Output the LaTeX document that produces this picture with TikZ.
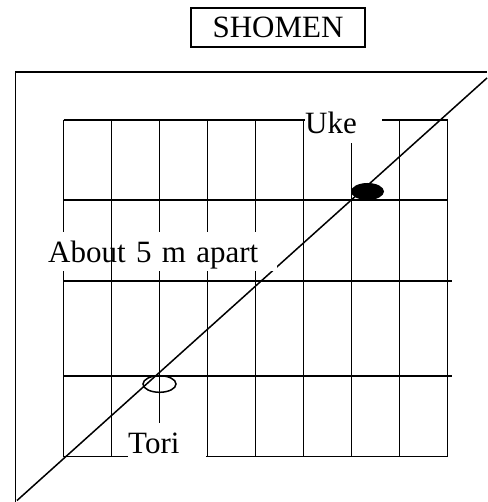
\documentclass[tikz,border=0pt]{standalone}
\usepackage{fontspec}
\setmainfont{Liberation Serif}
\usepackage{xcolor}
\usepackage{tikz}
\usetikzlibrary{positioning}
\definecolor{inkblack}{HTML}{000000}

\tikzset{
  matline/.style={inkblack, line width=1.5pt},
  lbl/.style={fill=white, inner ysep=0pt, anchor=base west, align=left,
    font=\fontsize{31}{36}\selectfont\color{inkblack}}
}

\begin{document}
\begin{tikzpicture}[x=1pt,y=-1pt]
  \useasboundingbox (0,0) rectangle (487,502);
  % shomen sign
  \node[draw=inkblack, line width=1.5pt, minimum width=174pt, minimum height=39pt, inner sep=0pt,
        font=\fontsize{31}{36}\selectfont] (shomen) at (278,27.5) {SHOMEN};
  % mat grid
  \foreach \i in {0,...,8}{
    \draw[matline] ({63.5+48*\i},120) -- ({63.5+48*\i},456.5);
  }
  \foreach \y/\xe in {120/447.5, 200/447.5, 281/451.7, 376/451.7, 456.5/447.5}{
    \draw[matline] (63.5,\y) -- (\xe,\y);
  }
  % area border and diagonal
  \draw[matline] (15.7,502) -- (15.7,72) -- (487,72);
  \draw[matline] (17,500.5) -- (487,78);
  % labels
  \node[lbl, inner xsep=0.5pt, text width=76pt, text height=23pt, text depth=10pt] (uke) at (304.5,133.3) {Uke};
  \node[lbl, inner xsep=3pt, text width=226pt, text height=30pt, text depth=9pt] (apart) at (45,262) {About 5 m apart};
  \node[lbl, inner xsep=0pt, text width=78pt, text height=30.3pt, text depth=5pt] (tori) at (128,453.3) {Tori};
  \draw[matline] (111.5,200) -- (111.5,281);
  % positions
  \fill[inkblack] (367.5,191.5) ellipse [x radius=16.5, y radius=8.5];
  \draw[matline] (159.5,384) ellipse [x radius=16.5, y radius=8.3];
\end{tikzpicture}
\end{document}
